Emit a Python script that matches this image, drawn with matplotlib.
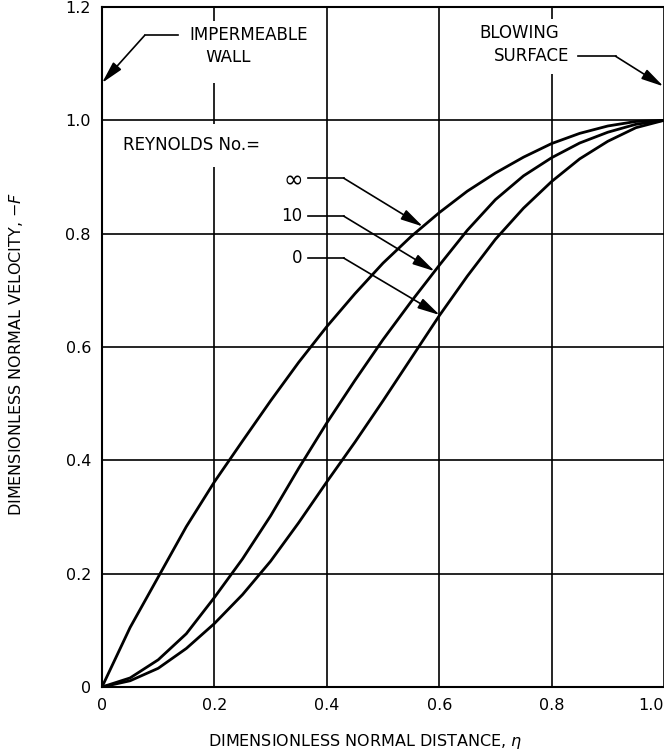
import numpy as np
import matplotlib
matplotlib.use("Agg")
import matplotlib.pyplot as plt

matplotlib.rc('font', family='DejaVu Sans')

# dimensionless normal distance (eta) and -F for the three Reynolds numbers
eta = [0, 0.05, 0.1, 0.15, 0.2, 0.25, 0.3, 0.35, 0.4, 0.45, 0.5,
       0.55, 0.6, 0.65, 0.7, 0.75, 0.8, 0.85, 0.9, 0.95, 1.0]
f_inf = [0, 0.105, 0.194, 0.283, 0.362, 0.434, 0.505, 0.573, 0.636, 0.694, 0.748,
         0.795, 0.837, 0.875, 0.907, 0.935, 0.959, 0.977, 0.990, 0.998, 1.0]
f_10 = [0, 0.016, 0.048, 0.094, 0.158, 0.226, 0.302, 0.386, 0.466, 0.541, 0.613,
        0.680, 0.744, 0.806, 0.860, 0.902, 0.934, 0.960, 0.979, 0.993, 1.0]
f_0 = [0, 0.011, 0.033, 0.068, 0.112, 0.163, 0.222, 0.290, 0.362, 0.432, 0.505,
       0.580, 0.655, 0.725, 0.790, 0.845, 0.892, 0.932, 0.963, 0.987, 1.0]

curves = [f_inf, f_10, f_0]
re_labels = [r'$\infty$', '10', '0']

xticks = [0, 0.2, 0.4, 0.6, 0.8, 1.0]
xticklabels = ['0', '0.2', '0.4', '0.6', '0.8', '1.0']
yticks = [0, 0.2, 0.4, 0.6, 0.8, 1.0, 1.2]
yticklabels = ['0', '0.2', '0.4', '0.6', '0.8', '1.0', '1.2']

fig = plt.figure(figsize=(6.64, 7.51), dpi=100)
ax = fig.add_axes([102/664., 64/751., 562/664., 680/751.])

for f in curves:
    ax.plot(eta, f, color='k', lw=2, zorder=3, solid_capstyle='round',
            solid_joinstyle='round')

ax.set_xlim(0, 1.0)
ax.set_ylim(0, 1.2)
ax.set_xticks(xticks)
ax.set_xticklabels(xticklabels)
ax.set_yticks(yticks)
ax.set_yticklabels(yticklabels)
ax.tick_params(length=0, labelsize=11.5, pad=8)
ax.get_xticklabels()[-1].set_horizontalalignment('right')
ax.grid(True, color='k', lw=1.2)
ax.set_axisbelow(True)
for s in ['left', 'bottom', 'top']:
    ax.spines[s].set_linewidth(1.5)
ax.spines['right'].set_visible(False)

ax.set_xlabel(r'DIMENSIONLESS NORMAL DISTANCE, $\eta$', fontsize=11.5)
ax.xaxis.set_label_coords(0.468, -0.066)
ax.set_ylabel(r'DIMENSIONLESS NORMAL VELOCITY, $-F$', fontsize=11.5, labelpad=0)
ax.yaxis.set_label_coords(-0.137, 0.49)

white = dict(facecolor='white', edgecolor='none', pad=4)
arrow = dict(arrowstyle='-|>,head_length=0.9,head_width=0.22', color='k',
             lw=1.2, shrinkA=0, shrinkB=0, mutation_scale=15)


def leader(x0, x1, y, tip):
    ax.plot([x0, x1], [y, y], color='k', lw=1.2, zorder=6, clip_on=False)
    ax.annotate('', xy=tip, xytext=(x1, y), arrowprops=arrow,
                annotation_clip=False, zorder=6)


# wall labels (second line gets the bigger white box, first line drawn on top)
ax.text(0.224, 1.112, 'WALL', fontsize=12, ha='center', va='center',
        bbox=dict(facecolor='white', edgecolor='none', pad=12), zorder=4)
ax.text(0.261, 1.150, 'IMPERMEABLE', fontsize=12, ha='center', va='center',
        bbox=white, zorder=5)
leader(0.135, 0.076, 1.150, (0.0, 1.066))

ax.text(0.765, 1.113, 'SURFACE', fontsize=12, ha='center', va='center',
        bbox=dict(facecolor='white', edgecolor='none', pad=6), zorder=4)
ax.text(0.742, 1.154, 'BLOWING', fontsize=12, ha='center', va='center',
        bbox=white, zorder=5)
leader(0.847, 0.914, 1.113, (0.999, 1.06))

# Reynolds number key
ax.text(0.037, 0.956, 'REYNOLDS No.=', fontsize=12, ha='left', va='center',
        bbox=dict(facecolor='white', edgecolor='none', pad=9), zorder=4)

lab_y = [0.898, 0.831, 0.757]
lab_size = [17, 12, 12]
tip_x = [0.571, 0.592, 0.601]
for lab, y, fs, tx, f in zip(re_labels, lab_y, lab_size, tip_x, curves):
    ax.text(0.356, y, lab, fontsize=fs, ha='right', va='center', zorder=4)
    leader(0.366, 0.430, y, (tx, np.interp(tx, eta, f)))

plt.savefig('out.png', dpi=100)
